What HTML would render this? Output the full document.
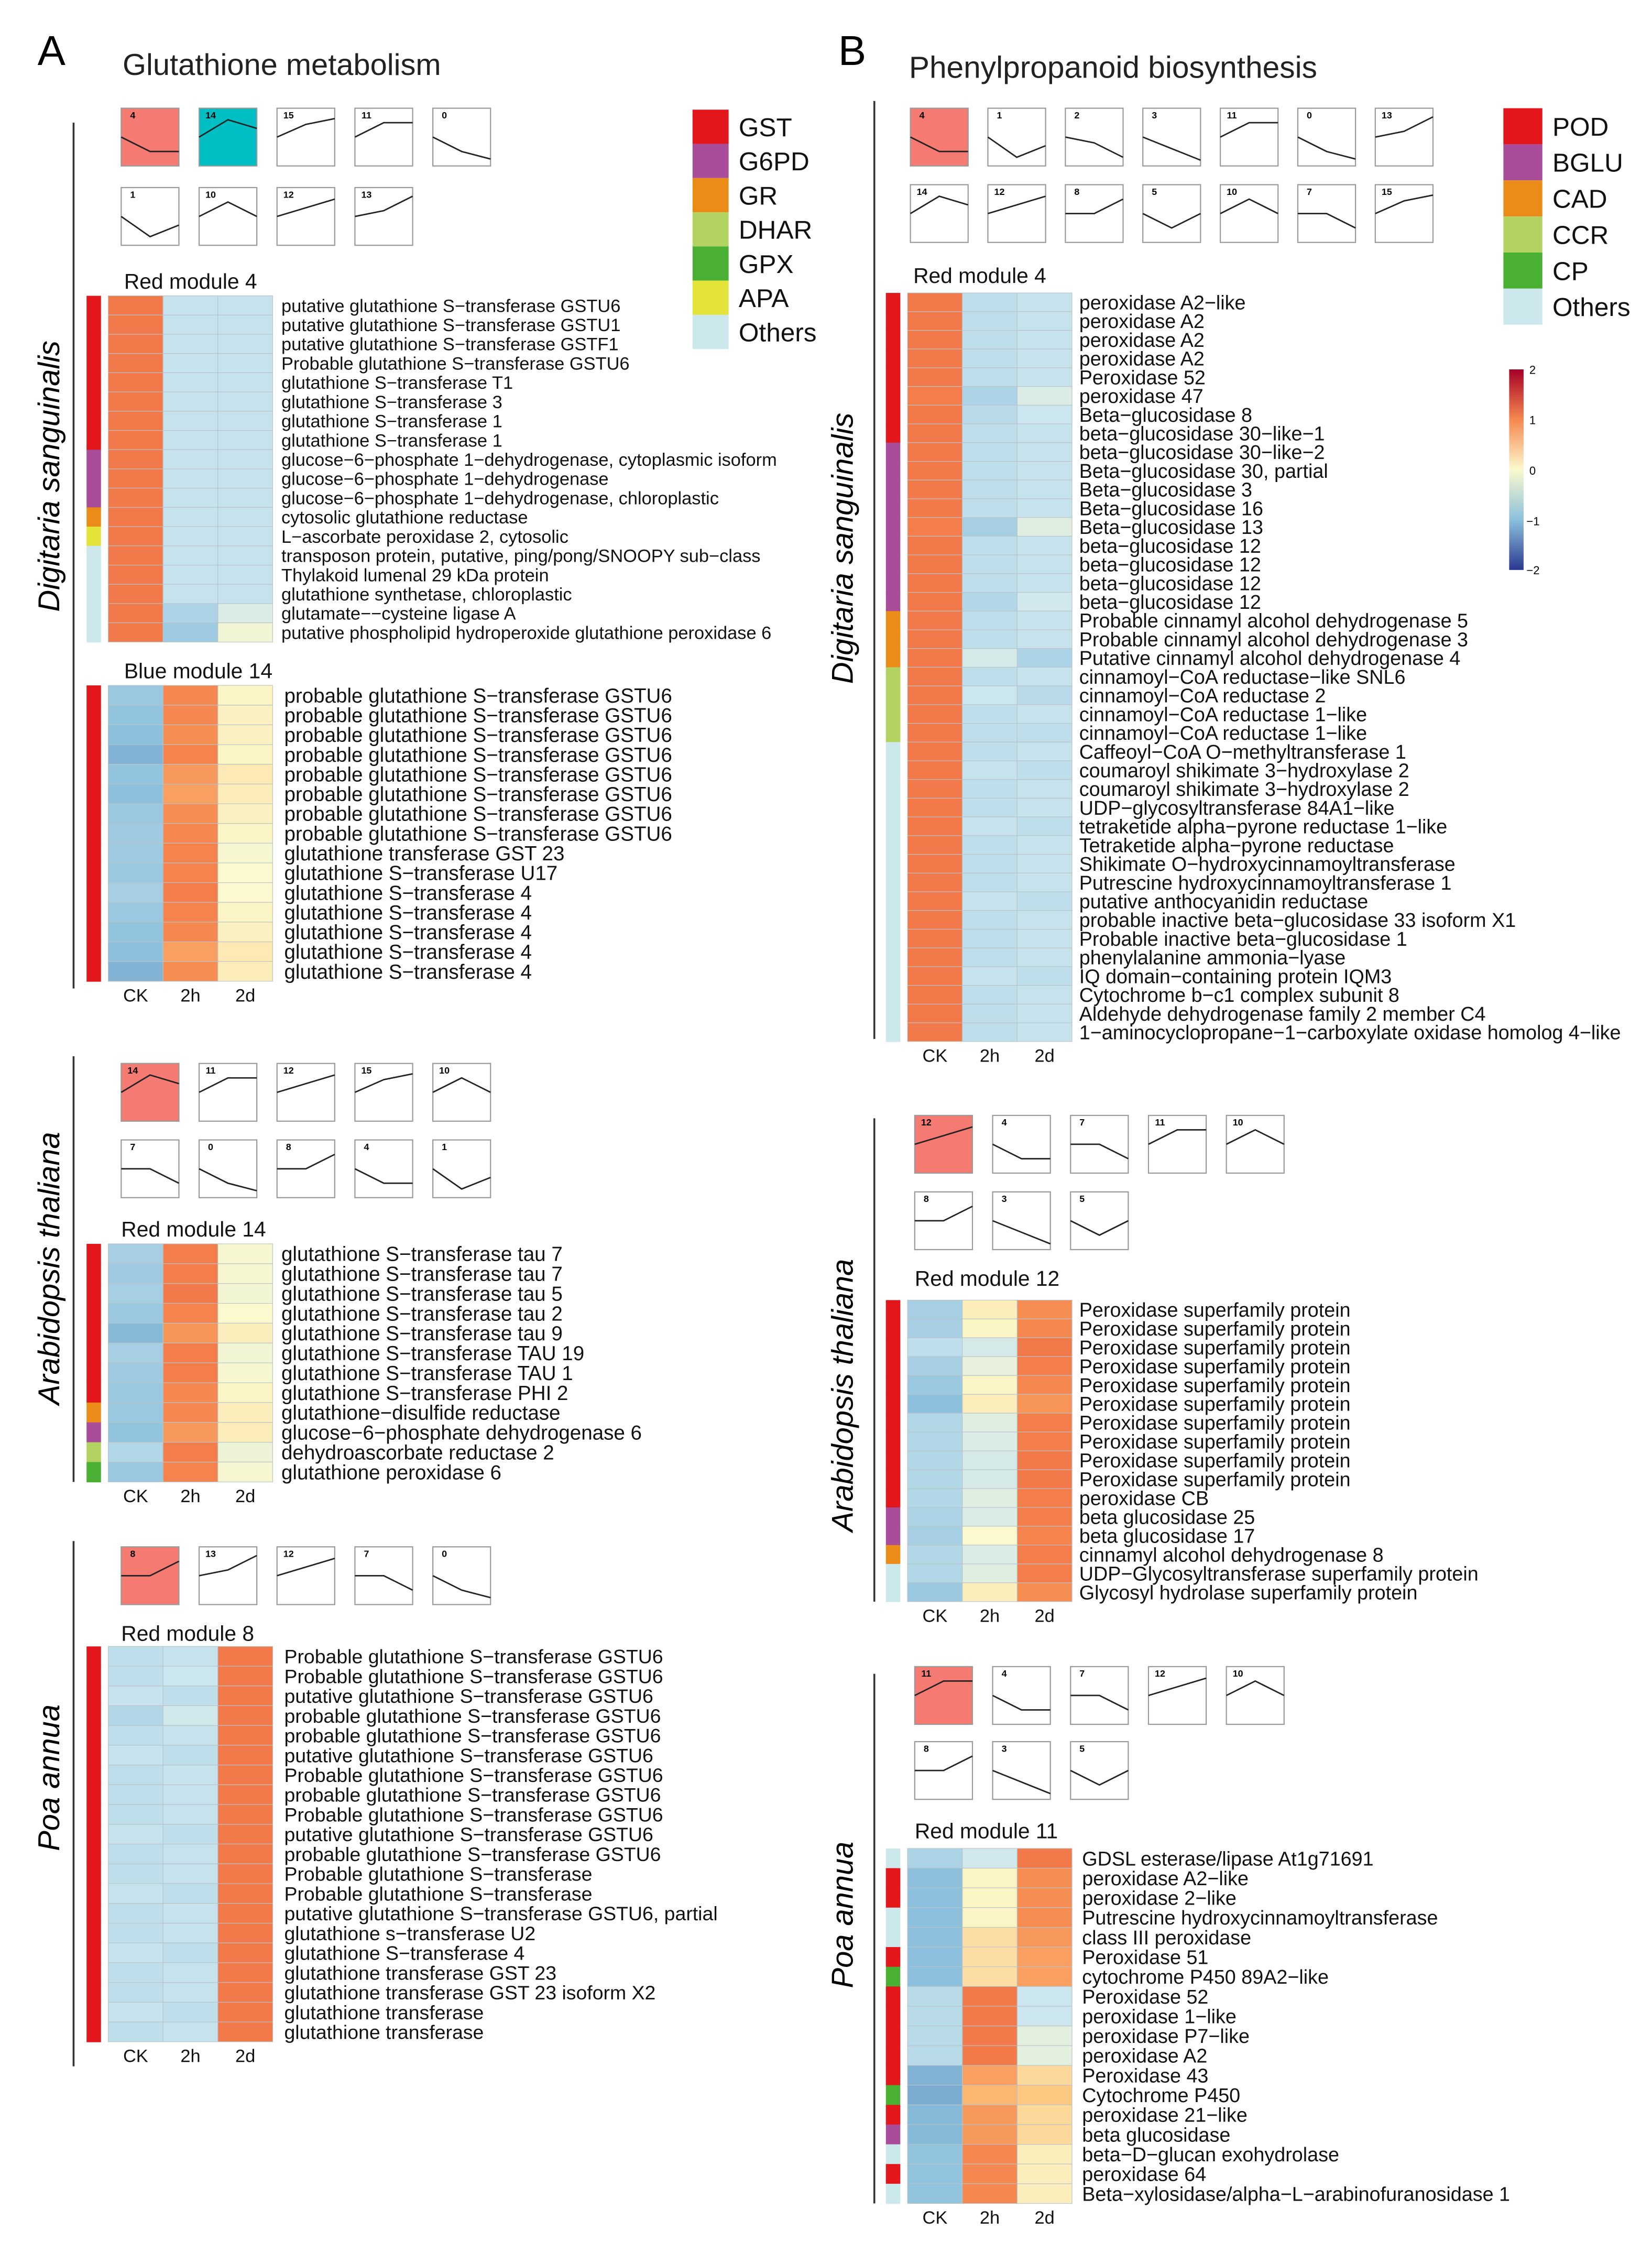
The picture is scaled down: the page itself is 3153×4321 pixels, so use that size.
<!DOCTYPE html>
<html><head><meta charset="utf-8"><style>
html,body{margin:0;padding:0;background:#fff;}
svg{display:block;font-family:"Liberation Sans",Arial,sans-serif;}
</style></head><body>
<svg id="fig" xmlns="http://www.w3.org/2000/svg" width="3153" height="4321" viewBox="0 0 1145 1569" preserveAspectRatio="none">
<rect x="0" y="0" width="1145" height="1569" fill="#fff"/>
<text x="26" y="45" font-size="29">A</text>
<text x="85" y="52" font-size="21" fill="#222">Glutathione metabolism</text>
<text x="581" y="45" font-size="29">B</text>
<text x="630" y="54" font-size="21.3" fill="#222">Phenylpropanoid biosynthesis</text>
<defs><linearGradient id="cb" x1="0" y1="0" x2="0" y2="1">
<stop offset="0" stop-color="#a50026"/><stop offset="0.25" stop-color="#f58850"/><stop offset="0.5" stop-color="#fbf9cd"/><stop offset="0.75" stop-color="#8cc0dc"/><stop offset="1" stop-color="#2b3990"/></linearGradient></defs>
<g>
<rect x="1046" y="256" width="10" height="139" fill="url(#cb)"/>
<text x="1060" y="259" font-size="8">2</text><text x="1060" y="294" font-size="8">1</text><text x="1060" y="329" font-size="8">0</text><text x="1058" y="364" font-size="8">−1</text><text x="1058" y="398" font-size="8">−2</text>
</g>
<g id="content"></g>
</svg>
<script>
// ---------- data ----------
const catColorsA = {GST:"#e3161b",G6PD:"#a94d9a",GR:"#ea8c17",DHAR:"#b2d361",GPX:"#49b033",APA:"#e4e33a",Others:"#cde8ec"};
const catColorsB = {POD:"#e3161b",BGLU:"#a94d9a",CAD:"#ea8c17",CCR:"#b2d361",CP:"#49b033",Others:"#cde8ec"};
const legendA = ["GST","G6PD","GR","DHAR","GPX","APA","Others"];
const legendB = ["POD","BGLU","CAD","CCR","CP","Others"];
const timepoints = ["CK","2h","2d"];

const profiles = {0:[0.5,0.75,0.88],1:[0.5,0.85,0.65],2:[0.5,0.6,0.85],3:[0.5,0.7,0.9],4:[0.5,0.75,0.75],5:[0.5,0.75,0.5],7:[0.5,0.5,0.75],8:[0.5,0.5,0.25],10:[0.5,0.25,0.5],11:[0.5,0.25,0.25],12:[0.5,0.35,0.2],13:[0.5,0.4,0.15],14:[0.5,0.2,0.35],15:[0.5,0.28,0.18]};

const aDigR4Genes = ["putative glutathione S−transferase GSTU6","putative glutathione S−transferase GSTU1","putative glutathione S−transferase GSTF1","Probable glutathione S−transferase GSTU6","glutathione S−transferase T1","glutathione S−transferase 3","glutathione S−transferase 1","glutathione S−transferase 1","glucose−6−phosphate 1−dehydrogenase, cytoplasmic isoform","glucose−6−phosphate 1−dehydrogenase","glucose−6−phosphate 1−dehydrogenase, chloroplastic","cytosolic glutathione reductase","L−ascorbate peroxidase 2, cytosolic","transposon protein, putative, ping/pong/SNOOPY sub−class","Thylakoid lumenal 29 kDa protein","glutathione synthetase, chloroplastic","glutamate−−cysteine ligase A","putative phospholipid hydroperoxide glutathione peroxidase 6"];
const aDigR4Cats = ["GST","GST","GST","GST","GST","GST","GST","GST","G6PD","G6PD","G6PD","GR","APA","Others","Others","Others","Others","Others"];
const aDigR4Vals = [[1.15,-0.55,-0.55],[1.15,-0.55,-0.55],[1.15,-0.55,-0.55],[1.15,-0.55,-0.55],[1.15,-0.55,-0.55],[1.15,-0.55,-0.55],[1.15,-0.55,-0.55],[1.15,-0.55,-0.55],[1.15,-0.55,-0.55],[1.15,-0.55,-0.55],[1.15,-0.55,-0.55],[1.15,-0.55,-0.55],[1.15,-0.55,-0.55],[1.15,-0.55,-0.55],[1.15,-0.55,-0.55],[1.15,-0.55,-0.55],[1.15,-0.75,-0.35],[1.15,-0.85,-0.1]];

const aDigB14Genes = ["probable glutathione S−transferase GSTU6","probable glutathione S−transferase GSTU6","probable glutathione S−transferase GSTU6","probable glutathione S−transferase GSTU6","probable glutathione S−transferase GSTU6","probable glutathione S−transferase GSTU6","probable glutathione S−transferase GSTU6","probable glutathione S−transferase GSTU6","glutathione transferase GST 23","glutathione S−transferase U17","glutathione S−transferase 4","glutathione S−transferase 4","glutathione S−transferase 4","glutathione S−transferase 4","glutathione S−transferase 4"];
const aDigB14Cats = Array(15).fill("GST");
const aDigB14Vals = [[-0.9,1.0,0.05],[-0.95,1.0,0.08],[-1.0,0.95,0.08],[-1.1,1.05,0.05],[-0.95,0.85,0.15],[-1.0,0.8,0.12],[-0.9,0.95,0.08],[-0.85,1.0,0.05],[-0.85,1.05,-0.05],[-0.9,1.05,0.0],[-0.8,1.1,0.0],[-0.9,1.05,0.05],[-0.95,1.0,0.08],[-1.0,0.8,0.15],[-1.1,0.95,0.12]];

const aAraGenes = ["glutathione S−transferase tau 7","glutathione S−transferase tau 7","glutathione S−transferase tau 5","glutathione S−transferase tau 2","glutathione S−transferase tau 9","glutathione S−transferase TAU 19","glutathione S−transferase TAU 1","glutathione S−transferase PHI 2","glutathione−disulfide reductase","glucose−6−phosphate dehydrogenase 6","dehydroascorbate reductase 2","glutathione peroxidase 6"];
const aAraCats = ["GST","GST","GST","GST","GST","GST","GST","GST","GR","G6PD","DHAR","GPX"];
const aAraVals = [[-0.8,1.1,-0.05],[-0.85,1.1,-0.05],[-0.8,1.15,-0.1],[-0.9,1.05,0.0],[-1.05,0.9,0.1],[-0.8,1.1,-0.1],[-0.85,1.1,-0.05],[-0.9,1.0,0.05],[-0.9,1.0,0.1],[-0.95,0.85,0.12],[-0.7,1.1,-0.15],[-0.9,1.05,-0.05]];

const aPoaGenes = ["Probable glutathione S−transferase GSTU6","Probable glutathione S−transferase GSTU6","putative glutathione S−transferase GSTU6","probable glutathione S−transferase GSTU6","probable glutathione S−transferase GSTU6","putative glutathione S−transferase GSTU6","Probable glutathione S−transferase GSTU6","probable glutathione S−transferase GSTU6","Probable glutathione S−transferase GSTU6","putative glutathione S−transferase GSTU6","probable glutathione S−transferase GSTU6","Probable glutathione S−transferase","Probable glutathione S−transferase","putative glutathione S−transferase GSTU6, partial","glutathione s−transferase U2","glutathione S−transferase 4","glutathione transferase GST 23","glutathione transferase GST 23 isoform X2","glutathione transferase","glutathione transferase"];
const aPoaCats = Array(20).fill("GST");
const aPoaVals = [[-0.6,-0.55,1.15],[-0.6,-0.5,1.15],[-0.55,-0.6,1.15],[-0.7,-0.45,1.15],[-0.6,-0.55,1.15],[-0.55,-0.6,1.15],[-0.6,-0.55,1.15],[-0.6,-0.55,1.15],[-0.6,-0.55,1.15],[-0.55,-0.6,1.15],[-0.6,-0.55,1.15],[-0.6,-0.55,1.15],[-0.55,-0.6,1.15],[-0.6,-0.55,1.15],[-0.6,-0.55,1.15],[-0.55,-0.6,1.15],[-0.6,-0.55,1.15],[-0.6,-0.55,1.15],[-0.55,-0.6,1.15],[-0.6,-0.55,1.15]];

const bDigGenes = ["peroxidase A2−like","peroxidase A2","peroxidase A2","peroxidase A2","Peroxidase 52","peroxidase 47","Beta−glucosidase 8","beta−glucosidase 30−like−1","beta−glucosidase 30−like−2","Beta−glucosidase 30, partial","Beta−glucosidase 3","Beta−glucosidase 16","Beta−glucosidase 13","beta−glucosidase 12","beta−glucosidase 12","beta−glucosidase 12","beta−glucosidase 12","Probable cinnamyl alcohol dehydrogenase 5","Probable cinnamyl alcohol dehydrogenase 3","Putative cinnamyl alcohol dehydrogenase 4","cinnamoyl−CoA reductase−like SNL6","cinnamoyl−CoA reductase 2","cinnamoyl−CoA reductase 1−like","cinnamoyl−CoA reductase 1−like","Caffeoyl−CoA O−methyltransferase 1","coumaroyl shikimate 3−hydroxylase 2","coumaroyl shikimate 3−hydroxylase 2","UDP−glycosyltransferase 84A1−like","tetraketide alpha−pyrone reductase 1−like","Tetraketide alpha−pyrone reductase","Shikimate O−hydroxycinnamoyltransferase","Putrescine hydroxycinnamoyltransferase 1","putative anthocyanidin reductase","probable inactive beta−glucosidase 33 isoform X1","Probable inactive beta−glucosidase 1","phenylalanine ammonia−lyase","IQ domain−containing protein IQM3","Cytochrome b−c1 complex subunit 8","Aldehyde dehydrogenase family 2 member C4","1−aminocyclopropane−1−carboxylate oxidase homolog 4−like"];
const bDigCats = ["POD","POD","POD","POD","POD","POD","POD","POD","BGLU","BGLU","BGLU","BGLU","BGLU","BGLU","BGLU","BGLU","BGLU","CAD","CAD","CAD","CCR","CCR","CCR","CCR","Others","Others","Others","Others","Others","Others","Others","Others","Others","Others","Others","Others","Others","Others","Others","Others"];
const bDigVals = [[1.15,-0.6,-0.55],[1.15,-0.6,-0.55],[1.15,-0.6,-0.55],[1.15,-0.6,-0.55],[1.15,-0.6,-0.55],[1.1,-0.75,-0.35],[1.15,-0.65,-0.5],[1.15,-0.6,-0.55],[1.15,-0.6,-0.55],[1.15,-0.6,-0.55],[1.15,-0.6,-0.55],[1.15,-0.6,-0.55],[1.1,-0.8,-0.3],[1.15,-0.6,-0.55],[1.15,-0.6,-0.55],[1.15,-0.6,-0.55],[1.15,-0.7,-0.45],[1.15,-0.6,-0.55],[1.15,-0.6,-0.55],[1.15,-0.4,-0.75],[1.15,-0.6,-0.55],[1.15,-0.5,-0.65],[1.15,-0.6,-0.55],[1.15,-0.6,-0.6],[1.15,-0.6,-0.55],[1.15,-0.55,-0.6],[1.15,-0.6,-0.55],[1.15,-0.6,-0.55],[1.15,-0.55,-0.6],[1.15,-0.6,-0.55],[1.15,-0.6,-0.55],[1.15,-0.6,-0.55],[1.15,-0.55,-0.6],[1.15,-0.6,-0.55],[1.15,-0.6,-0.55],[1.15,-0.6,-0.55],[1.15,-0.55,-0.6],[1.15,-0.6,-0.55],[1.15,-0.6,-0.55],[1.15,-0.6,-0.55]];

const bAraGenes = ["Peroxidase superfamily protein","Peroxidase superfamily protein","Peroxidase superfamily protein","Peroxidase superfamily protein","Peroxidase superfamily protein","Peroxidase superfamily protein","Peroxidase superfamily protein","Peroxidase superfamily protein","Peroxidase superfamily protein","Peroxidase superfamily protein","peroxidase CB","beta glucosidase 25","beta glucosidase 17","cinnamyl alcohol dehydrogenase 8","UDP−Glycosyltransferase superfamily protein","Glycosyl hydrolase superfamily protein"];
const bAraCats = ["POD","POD","POD","POD","POD","POD","POD","POD","POD","POD","POD","BGLU","BGLU","CAD","Others","Others"];
const bAraVals = [[-0.8,0.1,0.95],[-0.8,0.05,1.0],[-0.6,-0.4,1.15],[-0.8,-0.2,1.1],[-0.9,0.05,1.0],[-1.0,0.1,0.9],[-0.7,-0.3,1.1],[-0.7,-0.35,1.1],[-0.7,-0.4,1.15],[-0.7,-0.4,1.15],[-0.7,-0.3,1.1],[-0.75,-0.35,1.1],[-0.8,0.0,1.05],[-0.7,-0.35,1.1],[-0.7,-0.3,1.1],[-0.9,0.1,0.95]];

const bPoaGenes = ["GDSL esterase/lipase At1g71691","peroxidase A2−like","peroxidase 2−like","Putrescine hydroxycinnamoyltransferase","class III peroxidase","Peroxidase 51","cytochrome P450 89A2−like","Peroxidase 52","peroxidase 1−like","peroxidase P7−like","peroxidase A2","Peroxidase 43","Cytochrome P450","peroxidase 21−like","beta glucosidase","beta−D−glucan exohydrolase","peroxidase 64","Beta−xylosidase/alpha−L−arabinofuranosidase 1"];
const bPoaCats = ["Others","POD","POD","Others","Others","POD","CP","POD","POD","POD","POD","POD","CP","POD","BGLU","Others","POD","Others"];
const bPoaVals = [[-0.75,-0.45,1.15],[-1.0,0.05,0.95],[-1.0,0.05,0.95],[-1.0,0.05,0.95],[-1.0,0.25,0.85],[-1.0,0.25,0.8],[-1.0,0.25,0.8],[-0.65,1.15,-0.5],[-0.65,1.15,-0.5],[-0.65,1.15,-0.25],[-0.65,1.15,-0.25],[-1.1,0.8,0.3],[-1.15,0.6,0.45],[-1.05,0.85,0.3],[-1.05,0.85,0.3],[-0.95,1.0,0.1],[-0.95,1.0,0.1],[-0.95,1.0,0.1]];

// ---------- helpers ----------
const NS = "http://www.w3.org/2000/svg";
const root = document.getElementById("content");
function mk(tag, attrs, parent){const e=document.createElementNS(NS,tag);for(const k in attrs)e.setAttribute(k,attrs[k]);(parent||root).appendChild(e);return e;}
const stops=[[-2,[43,57,144]],[-1,[140,192,220]],[-0.5,[204,230,239]],[0,[251,249,205]],[0.5,[253,194,122]],[1,[245,136,80]],[1.3,[238,106,66]],[2,[168,23,42]]];
function colorScale(v){v=Math.max(-2,Math.min(2,v));for(let i=0;i<stops.length-1;i++){const a=stops[i],b=stops[i+1];if(v<=b[0]){const t=(v-a[0])/(b[0]-a[0]);const c=a[1].map((x,j)=>Math.round(x+(b[1][j]-x)*t));return "rgb("+c.join(",")+")";}}return "rgb(168,23,42)";}

function heatmap(cfg, genes, cats, vals, colors){
  const g=mk("g",{});
  
  
  const t=mk("text",{x:cfg.tx,y:cfg.ty,"font-size":14.8,fill:"#111"},g);t.textContent=cfg.title;
  
  
  const yScale=i=>cfg.y0+i*cfg.rh;
  const xScale=j=>cfg.x0+j*cfg.cw;
  vals.forEach((row,i)=>{
    const a=mk("rect",{x:cfg.bx,y:yScale(i),width:10,height:cfg.rh+0.3,fill:colors[cats[i]]},g);
    
    
    row.forEach((v,j)=>{
      const c=mk("rect",{x:xScale(j),y:yScale(i),width:cfg.cw,height:cfg.rh,fill:colorScale(v),stroke:"#b9c3c7","stroke-width":0.4},g);
      
      
    });
    const l=mk("text",{x:cfg.lx,y:yScale(i)+cfg.rh/2+cfg.fs*0.36,"font-size":cfg.fs,fill:"#111"},g);l.textContent=genes[i];
    
    
  });
  const yb=yScale(vals.length)+14;
  if(cfg.ticks){
  timepoints.forEach((tp,j)=>{
    const tt=mk("text",{x:xScale(j)+cfg.cw/2,y:yb,"font-size":12.5,"text-anchor":"middle",fill:"#111"},g);tt.textContent=tp;
    
    
  });}
}

function miniPlots(ids, x0, step, y, hl){
  ids.forEach((id,k)=>{
    const x=x0+k*step;
    const g=mk("g",{});
    
    
    mk("rect",{x:x,y:y,width:40,height:40,fill:(hl[id]||"#fff"),stroke:"#9a9a9a","stroke-width":0.8},g);
    const p=profiles[id];
    const pts=p.map((v,i)=>(x+i*20)+","+(y+v*40)).join(" ");
    mk("polyline",{points:pts,fill:"none",stroke:"#222","stroke-width":1},g);
    const t=mk("text",{x:x+8,y:y+7,"font-size":6.5,"font-weight":"bold","text-anchor":"middle"},g);t.textContent=id;
  });
}

function species(name,x,y1,y2,lx,cy){
  const l=mk("line",{x1:x,y1:y1,x2:x,y2:y2,stroke:"#333","stroke-width":1.3});
  
  
  const t=mk("text",{x:lx,y:cy,"font-size":21,"font-style":"italic","text-anchor":"middle",transform:"rotate(-90 "+lx+" "+cy+")"});
  t.textContent=name;
  
  
}

function legend(items,colors,x,y,h,tx){
  items.forEach((it,i)=>{
    const r=mk("rect",{x:x,y:y+i*h,width:tx-x-7,height:h,fill:colors[it]});
    
    
    const t=mk("text",{x:tx,y:y+i*h+h/2+6.5,"font-size":18,fill:"#111"});t.textContent=it;
    
    
  });
}

// ---------- panel A ----------
legend(legendA,catColorsA,480,76,23.7,512);
species("Digitaria sanguinalis",51,85,685,41,330);
species("Arabidopsis thaliana",51,732,1027,41,879);
species("Poa annua",51,1068,1432,41,1232);
miniPlots([4,14,15,11,0],84,54,75,{4:"#f47a72",14:"#00bfc4"});
miniPlots([1,10,12,13],84,54,130,{});
miniPlots([14,11,12,15,10],84,54,737,{14:"#f47a72"});
miniPlots([7,0,8,4,1],84,54,790,{});
miniPlots([8,13,12,7,0],84,54,1072,{8:"#f47a72"});
heatmap({name:"a-digitaria-red-module-4",title:"Red module 4",tx:86,ty:200,y0:205,rh:13.33,x0:75,cw:38,bx:60,lx:195,fs:12.5,ticks:false},aDigR4Genes,aDigR4Cats,aDigR4Vals,catColorsA);
heatmap({name:"a-digitaria-blue-module-14",title:"Blue module 14",tx:86,ty:470,y0:475,rh:13.67,x0:75,cw:38,bx:60,lx:197,fs:14,ticks:true},aDigB14Genes,aDigB14Cats,aDigB14Vals,catColorsA);
heatmap({name:"a-arabidopsis-red-module-14",title:"Red module 14",tx:84,ty:857,y0:862,rh:13.75,x0:75,cw:38,bx:60,lx:195,fs:14,ticks:true},aAraGenes,aAraCats,aAraVals,catColorsA);
heatmap({name:"a-poa-red-module-8",title:"Red module 8",tx:84,ty:1137,y0:1141,rh:13.7,x0:75,cw:38,bx:60,lx:197,fs:13.6,ticks:true},aPoaGenes,aPoaCats,aPoaVals,catColorsA);

// ---------- panel B ----------
legend(legendB,catColorsB,1042,75,25,1076);
species("Digitaria sanguinalis",606,70,720,591,380);
species("Arabidopsis thaliana",606,775,1110,591,967);
species("Poa annua",606,1160,1527,591,1327);
miniPlots([4,1,2,3,11,0,13],631,53.7,75,{4:"#f47a72"});
miniPlots([14,12,8,5,10,7,15],631,53.7,128,{});
miniPlots([12,4,7,11,10],634,54,773,{12:"#f47a72"});
miniPlots([8,3,5],634,54,826,{});
miniPlots([11,4,7,12,10],634,54,1155,{11:"#f47a72"});
miniPlots([8,3,5],634,54,1207,{});
heatmap({name:"b-digitaria-red-module-4",title:"Red module 4",tx:633,ty:196,y0:203,rh:12.97,x0:629,cw:38,bx:614,lx:748,fs:13.7,ticks:true},bDigGenes,bDigCats,bDigVals,catColorsB);
heatmap({name:"b-arabidopsis-red-module-12",title:"Red module 12",tx:634,ty:891,y0:901,rh:13.06,x0:629,cw:38,bx:614,lx:748,fs:13.7,ticks:true},bAraGenes,bAraCats,bAraVals,catColorsB);
heatmap({name:"b-poa-red-module-11",title:"Red module 11",tx:634,ty:1274,y0:1281,rh:13.67,x0:629,cw:38,bx:614,lx:750,fs:13.7,ticks:true},bPoaGenes,bPoaCats,bPoaVals,catColorsB);
</script>
</body></html>
